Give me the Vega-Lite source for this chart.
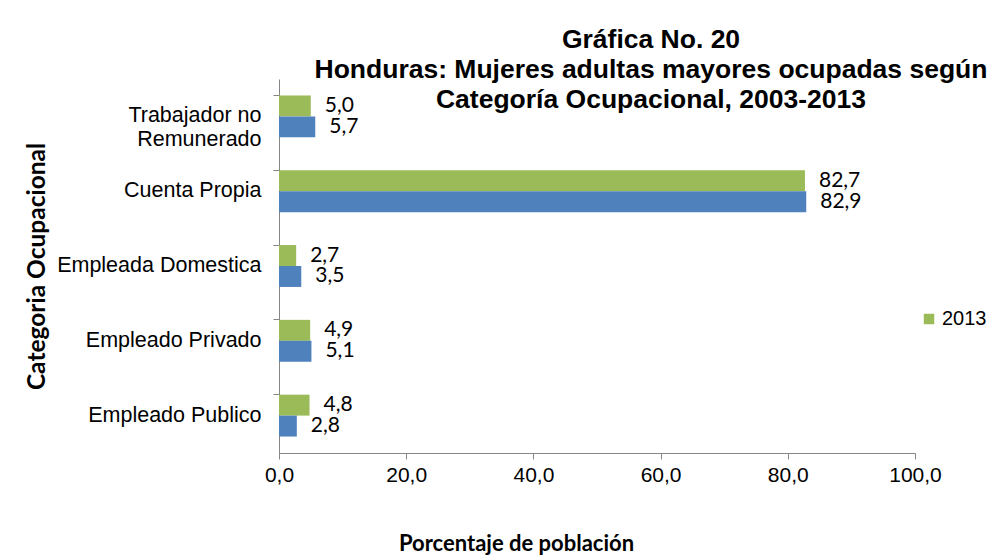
{
  "$schema": "https://vega.github.io/schema/vega-lite/v6.json",
  "width": 636,
  "height": 374,
  "autosize": "none",
  "padding": {"left": 279, "top": 79, "right": 76, "bottom": 105},
  "background": "white",
  "title": {
    "text": ["Gráfica No. 20", "Honduras: Mujeres adultas mayores ocupadas según", "Categoría Ocupacional, 2003-2013"],
    "font": "Liberation Sans",
    "fontSize": 26.5,
    "fontWeight": "bold",
    "color": "black",
    "anchor": "middle",
    "frame": "group",
    "dx": 54,
    "offset": -34,
    "lineHeight": 30
  },
  "config": {
    "view": {"stroke": null},
    "locale": {"number": {"decimal": ",", "thousands": ".", "grouping": [3], "currency": ["", ""]}},
    "axis": {"grid": false, "domainColor": "#868686", "tickColor": "#868686", "labelColor": "black", "titleColor": "black"}
  },
  "data": {
    "values": [
      {"cat": "Trabajador no Remunerado", "year": "2013", "value": 5.0},
      {"cat": "Trabajador no Remunerado", "year": "2003", "value": 5.7},
      {"cat": "Cuenta Propia", "year": "2013", "value": 82.7},
      {"cat": "Cuenta Propia", "year": "2003", "value": 82.9},
      {"cat": "Empleada Domestica", "year": "2013", "value": 2.7},
      {"cat": "Empleada Domestica", "year": "2003", "value": 3.5},
      {"cat": "Empleado Privado", "year": "2013", "value": 4.9},
      {"cat": "Empleado Privado", "year": "2003", "value": 5.1},
      {"cat": "Empleado Publico", "year": "2013", "value": 4.8},
      {"cat": "Empleado Publico", "year": "2003", "value": 2.8}
    ]
  },
  "encoding": {
    "y": {
      "field": "cat",
      "type": "nominal",
      "sort": null,
      "scale": {"paddingInner": 0.44, "paddingOuter": 0.22},
      "axis": {
        "title": "Categoria Ocupacional",
        "titleFont": "Lato",
        "titleFontWeight": "bold",
        "titleFontSize": 24.5,
        "titleAngle": -90,
        "titleX": -242,
        "titleY": 187,
        "titleAlign": "center",
        "titleBaseline": "middle",
        "labelFont": "Liberation Sans",
        "labelFontSize": 21.5,
        "labelPadding": 12,
        "labelLineHeight": 24,
        "labelLimit": 300,
        "tickSize": 6,
        "bandPosition": 0,
        "labelExpr": "datum.value == 'Trabajador no Remunerado' ? ['Trabajador no', 'Remunerado '] : datum.value"
      }
    },
    "yOffset": {"field": "year", "sort": ["2013", "2003"]},
    "x": {
      "field": "value",
      "type": "quantitative",
      "scale": {"domain": [0, 100]},
      "axis": {
        "values": [0, 20, 40, 60, 80, 100],
        "format": ".1f",
        "labelFont": "Liberation Sans",
        "labelFontSize": 21,
        "labelFlush": false,
        "labelPadding": 5,
        "tickSize": 6,
        "title": "Porcentaje de población",
        "titleFont": "Lato",
        "titleFontWeight": "bold",
        "titleFontSize": 22,
        "titleX": 237,
        "titleY": 90,
        "titleAlign": "center",
        "titleBaseline": "middle"
      }
    }
  },
  "layer": [
    {
      "mark": {"type": "bar"},
      "encoding": {
        "color": {
          "field": "year",
          "type": "nominal",
          "scale": {"domain": ["2003", "2013"], "range": ["#4F81BD", "#9BBB59"]},
          "legend": {
            "values": ["2013"],
            "title": null,
            "orient": "none",
            "legendX": 640,
            "legendY": 230,
            "symbolType": "square",
            "symbolSize": 110,
            "symbolStrokeWidth": 0,
            "labelOffset": 3,
            "labelFont": "Liberation Sans",
            "labelFontSize": 20,
            "labelColor": "black"
          }
        }
      }
    },
    {
      "mark": {"type": "text", "align": "left", "baseline": "middle", "dx": 14, "font": "Lato", "fontSize": 21, "color": "black"},
      "encoding": {"text": {"field": "value", "type": "quantitative", "format": ".1f"}}
    }
  ]
}
